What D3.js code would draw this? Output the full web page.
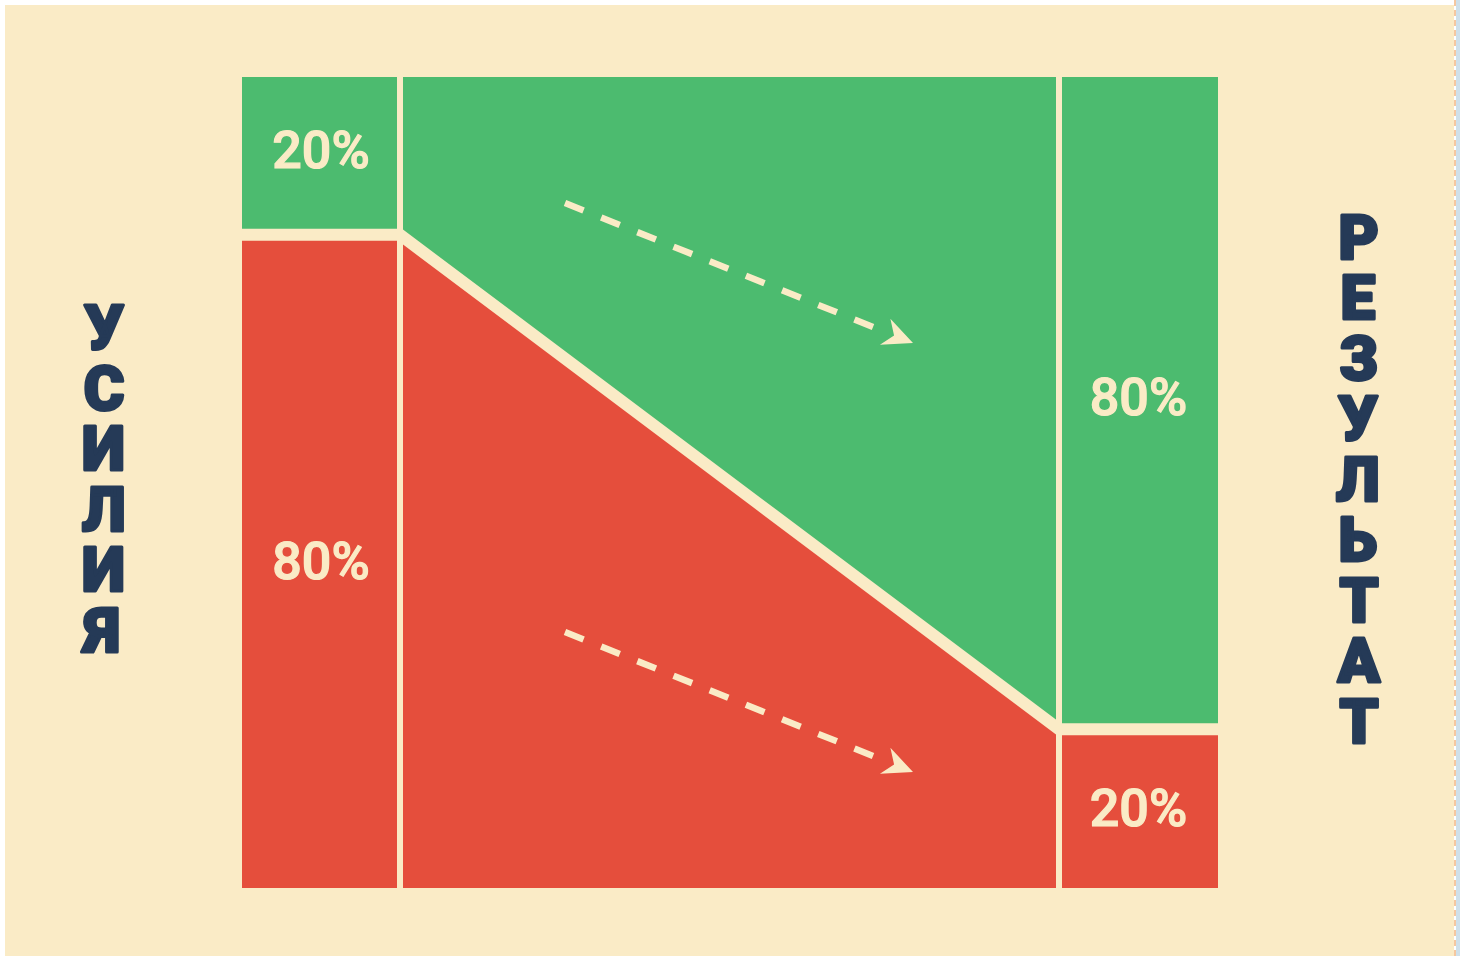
<!DOCTYPE html>
<html lang="ru">
<head>
<meta charset="utf-8">
<title>Принцип Парето</title>
<script src="https://d3js.org/d3.v7.min.js"></script>
<style>
  body { margin: 0; background: #fff; }
  svg { display: block; }
  .vword { writing-mode: vertical-rl; text-orientation: upright; }
</style>
</head>
<body>
<div id="chart"></div>
<script>
// доли: слева усилия, справа результат (сверху вниз)
var effortLabels = ['20%', '80%'];
var effortValues = [20, 80];
var resultLabels = ['80%', '20%'];
var resultValues = [80, 20];
var segmentKinds = ['good', 'bad'];
var axisLeft = 'УСИЛИЯ';
var axisRight = 'РЕЗУЛЬТАТ';

var width = 1460, height = 956;
var cream = '#faebc6', green = '#4cbb6f', red = '#e54e3c', ink = '#253a57';
var color = d3.scaleOrdinal().domain(segmentKinds).range([green, red]);

var svg = d3.select('#chart').append('svg')
    .attr('width', width).attr('height', height);

// фон
svg.append('rect').attr('width', width).attr('height', height).attr('fill', '#fff');
svg.append('rect').attr('x', 5).attr('y', 5).attr('width', 1449).attr('height', 951).attr('fill', cream);
svg.append('rect').attr('x', 1456).attr('y', 0).attr('width', 4).attr('height', height).attr('fill', '#cfe0ea');
svg.append('line').attr('x1', 1455).attr('x2', 1455).attr('y1', 0).attr('y2', height)
    .attr('stroke', '#f5c7a0').attr('stroke-width', 2).attr('stroke-dasharray', '6,4');

var colEdges = [242, 400, 1059, 1218];
var chartTop = 77, chartBottom = 888;
var y = d3.scaleLinear().domain([0, 100]).range([70, 894]);
var gapH = 12, gapV = 6;

function stack(values) {
    var acc = 0;
    return values.map(function (v) { var s = acc; acc += v; return [s, acc]; });
}
var effortStack = stack(effortValues);
var resultStack = stack(resultValues);
function y0(d) { return Math.max(chartTop, y(d[0])); }
function y1(d) { return Math.min(chartBottom, y(d[1])); }

var g = svg.append('g');

function column(stk, xa, xb) {
    g.selectAll(null).data(stk).enter().append('rect')
        .attr('x', xa).attr('width', xb - xa)
        .attr('y', y0)
        .attr('height', function (d) { return y1(d) - y0(d); })
        .attr('fill', function (d, i) { return color(segmentKinds[i]); });
}
column(effortStack, colEdges[0], colEdges[1]);
column(resultStack, colEdges[2], colEdges[3]);

// средняя часть: переход
var mid = segmentKinds.map(function (k, i) {
    return [
        [colEdges[1], y0(effortStack[i])],
        [colEdges[2], y0(resultStack[i])],
        [colEdges[2], y1(resultStack[i])],
        [colEdges[1], y1(effortStack[i])]
    ];
});
g.selectAll('.mid').data(mid).enter().append('path')
    .attr('d', function (d) { return 'M' + d.join('L') + 'Z'; })
    .attr('fill', function (d, i) { return color(segmentKinds[i]); });

// разделители
var split = d3.line()([
    [colEdges[0], y(effortStack[0][1])],
    [colEdges[1], y(effortStack[0][1])],
    [colEdges[2], y(resultStack[0][1])],
    [colEdges[3], y(resultStack[0][1])]
]);
g.append('path').attr('d', split).attr('fill', 'none')
    .attr('stroke', cream).attr('stroke-width', gapH).attr('stroke-linejoin', 'miter');
[colEdges[1], colEdges[2]].forEach(function (cx) {
    g.append('line').attr('x1', cx).attr('x2', cx).attr('y1', chartTop).attr('y2', chartBottom)
        .attr('stroke', cream).attr('stroke-width', gapV);
});

// подписи процентов (по центру видимой части блока)
function pctLabels(stk, labels, xa, xb) {
    g.selectAll(null).data(stk).enter().append('text')
        .attr('x', (xa + xb) / 2)
        .attr('y', function (d, i) {
            var a = i === 0 ? y0(d) : y0(d) + gapH / 2;
            var b = i === stk.length - 1 ? y1(d) : y1(d) - gapH / 2;
            return (a + b) / 2 - 4;
        })
        .attr('dy', '0.36em')
        .attr('text-anchor', 'middle')
        .attr('font-family', 'Roboto, sans-serif')
        .attr('font-weight', 500)
        .attr('font-size', 52)
        .attr('fill', cream)
        .attr('stroke', cream).attr('stroke-width', 1.2)
        .text(function (d, i) { return labels[i]; });
}
pctLabels(effortStack, effortLabels, colEdges[0], colEdges[1]);
pctLabels(resultStack, resultLabels, colEdges[2], colEdges[3]);

// стрелки
var arrowOffsets = [0, 429];
arrowOffsets.forEach(function (dy) {
    var x0 = 565, ya = 203 + dy, x1 = 913, yb = 343 + dy;
    var ang = Math.atan2(yb - ya, x1 - x0);
    var len = 30, c = Math.cos(ang), s = Math.sin(ang);
    var bx = x1 - len * c, by = yb - len * s;
    g.append('line').attr('x1', x0).attr('y1', ya).attr('x2', bx + 4 * c).attr('y2', by + 4 * s)
        .attr('stroke', cream).attr('stroke-width', 6.5).attr('stroke-dasharray', '20,19');
    var px = -s, py = c, hw = 14;
    var notch = [x1 - 0.68 * len * c, yb - 0.68 * len * s];
    g.append('path')
        .attr('d', 'M' + [x1, yb] + 'L' + [bx + px * hw, by + py * hw] + 'L' + notch + 'L' + [bx - px * hw, by - py * hw] + 'Z')
        .attr('fill', cream);
});

// вертикальные подписи: одна строка, буквы друг под другом
function verticalWord(word, cx, cy) {
    var pitch = 60.5;
    var t = svg.append('text')
        .attr('class', 'vword')
        .attr('x', cx)
        .attr('font-family', 'Roboto, sans-serif')
        .attr('font-weight', 900)
        .attr('font-size', 62)
        .attr('fill', ink)
        .attr('stroke', ink).attr('stroke-width', 3).attr('stroke-linejoin', 'round')
        .text(word);
    var adv = t.node().getComputedTextLength() / word.length;
    var ls = pitch - adv;
    t.style('letter-spacing', ls + 'px');
    var total = pitch * word.length;
    t.attr('y', cy - total / 2 + ls / 2);
}
verticalWord(axisLeft, 104, 479);
verticalWord(axisRight, 1358, 479);
</script>
</body>
</html>
